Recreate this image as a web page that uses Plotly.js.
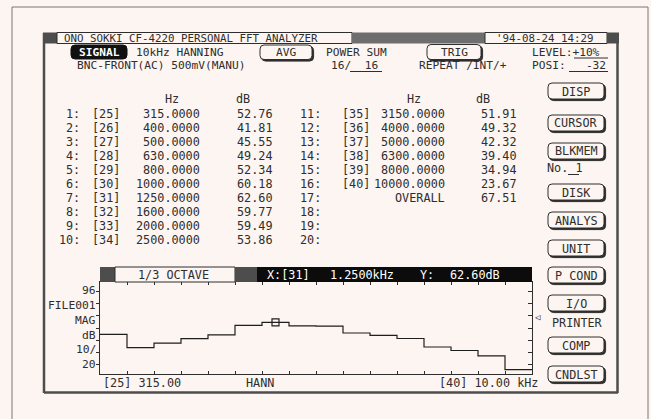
<!DOCTYPE html>
<html>
<head>
<meta charset="utf-8">
<script src="https://cdn.plot.ly/plotly-3.0.1.min.js"></script>
<style>
html,body{margin:0;padding:0;background:#fdf5f1;}
#chart{width:651px;height:419px;}
</style>
</head>
<body>
<div id="chart"></div>
<script>
// ---------------- data ----------------
const bandNumbers = [25,26,27,28,29,30,31,32,33,34,35,36,37,38,39,40];
const bandFreqs   = [315,400,500,630,800,1000,1250,1600,2000,2500,3150,4000,5000,6300,8000,10000];
const bandLevels  = [52.76,41.81,45.55,49.24,52.34,60.18,62.60,59.77,59.49,53.86,51.91,49.32,42.32,39.40,34.94,23.67];
const overallLevel = 67.51;
const cursorBand = 7;              // list entry 7 = band [31]
const yRange = [20, 96];
const yTickVals = [28,38,48,58,68,78,88];
const leftAxisLabels = ["96","FILE001","MAG","dB","10/","20"];
const menuButtons = ["DISP","CURSOR","BLKMEM","DISK","ANALYS","UNIT","P COND","I/O","COMP","CNDLST"];

// ---------------- style / geometry ----------------
const BG = '#fdf5f1', INK = '#2e2e2e', DARK = '#4d4d4d', MID = '#6e6e6e';
const FONT = '"DejaVu Sans Mono","Liberation Mono",monospace';
const FS = 11.8;
const PL = 100, PR = 532, PT = 282, PB = 374;
const X = p => (p - PL) / (PR - PL);
const Y = p => (PB - p) / (PB - PT);

const shapes = [], ann = [];
function rect(x0,y0,x1,y1,fill,lc,lw){
  shapes.push({type:'rect',xref:'paper',yref:'paper',x0:X(x0),x1:X(x1),y0:Y(y0),y1:Y(y1),
    fillcolor:fill||'rgba(0,0,0,0)',line:{color:lc||'rgba(0,0,0,0)',width:lw||0},layer:'above'});
}
function seg(x0,y0,x1,y1,c,w){
  shapes.push({type:'line',xref:'paper',yref:'paper',x0:X(x0),y0:Y(y0),x1:X(x1),y1:Y(y1),
    line:{color:c,width:w},layer:'above'});
}
function rr(x0,y0,x1,y1,r){
  return `M ${X(x0+r)} ${Y(y0)} L ${X(x1-r)} ${Y(y0)} Q ${X(x1)} ${Y(y0)} ${X(x1)} ${Y(y0+r)} `+
         `L ${X(x1)} ${Y(y1-r)} Q ${X(x1)} ${Y(y1)} ${X(x1-r)} ${Y(y1)} L ${X(x0+r)} ${Y(y1)} `+
         `Q ${X(x0)} ${Y(y1)} ${X(x0)} ${Y(y1-r)} L ${X(x0)} ${Y(y0+r)} Q ${X(x0)} ${Y(y0)} ${X(x0+r)} ${Y(y0)} Z`;
}
function pth(d,fill,lc,lw){
  shapes.push({type:'path',xref:'paper',yref:'paper',path:d,fillcolor:fill,line:{color:lc,width:lw},layer:'above'});
}
function txt(s,x,y,o){
  const a = {text:s,xref:'paper',yref:'paper',x:X(x),y:Y(y),xanchor:'left',yanchor:'middle',
    showarrow:false,borderpad:0,font:{family:FONT,size:FS,color:INK}};
  if(o){ for(const k in o){ if(k==='font') Object.assign(a.font,o.font); else a[k]=o[k]; } }
  ann.push(a);
}
function button(label,x0,y0,x1,y1,fs){
  pth(rr(x0+1.6,y0+1.6,x1+1.6,y1+1.6,4),INK,INK,1);
  pth(rr(x0,y0,x1,y1,4),BG,INK,1);
  txt(label,(x0+x1)/2,(y0+y1)/2+0.5,{xanchor:'center',font:{size:fs||FS}});
}

// ---------------- frames ----------------
seg(12,7,12,425,'#777',1); seg(12,7,648,7,'#777',1); seg(648,7,648,425,'#777',1);
seg(44,33,44,393,DARK,2.5); seg(44,392.5,618,392.5,DARK,2.5); seg(617.5,33,617.5,393,DARK,2.5);

// title bar
rect(43,32.5,57,43.5,DARK);
rect(57,32.5,352,43.5,BG,INK,1);
rect(352,32.5,485,43.5,MID);
rect(485,32.5,607,43.5,BG,INK,1);
rect(607,32.5,619,43.5,DARK);
txt("ONO SOKKI CF-4220 PERSONAL FFT ANALYZER",63,38.3,{font:{size:10.8}});
txt("'94-08-24 14:29",495,38.3,{font:{size:10.8}});

// row 2 / row 3
const R2 = 52, R3 = 65.5, FS2 = 11.2;
pth(rr(71,45,127,59,4),'#111','#111',1);
txt("<b>SIGNAL</b>",99,R2+0.3,{xanchor:'center',font:{color:'#ffffff',size:FS2}});
txt("10kHz HANNING",135,R2,{font:{size:FS2}});
button("AVG",260,45,312,59.5,FS2);
txt("POWER SUM",325,R2,{font:{size:FS2}});
button("TRIG",427,44.5,481,59.5,FS2);
txt("LEVEL:+10%",531,R2,{font:{size:FS2}});
seg(574,58,608,58,INK,1);
txt("BNC-FRONT(AC) 500mV(MANU)",76,R3,{font:{size:FS2}});
txt("16/  16",330,R3,{font:{size:FS2}});
seg(350,71.5,382,71.5,INK,1);
txt("REPEAT /INT/+",418,R3,{font:{size:FS2}});
txt("POSI:   -32",531,R3,{font:{size:FS2}});
seg(569,71.5,608,71.5,INK,1);

// table
txt("Hz",172,99,{xanchor:'center'}); txt("dB",243,99,{xanchor:'center'});
txt("Hz",414,99,{xanchor:'center'}); txt("dB",483,99,{xanchor:'center'});
const rowY = i => 114 + i*14;
for(let i=0;i<20;i++){
  const left = i<10, r = i%10, y = rowY(r);
  txt((i+1)+":", left?81:322, y, {xanchor:'right'});
  if(i < bandLevels.length){
    txt("["+bandNumbers[i]+"]", left?91:341, y);
    txt(bandFreqs[i].toFixed(4), left?201:446, y, {xanchor:'right'});
    txt(bandLevels[i].toFixed(2), left?274:518, y, {xanchor:'right'});
  } else if(i === bandLevels.length){
    txt("OVERALL", 446, y, {xanchor:'right'});
    txt(overallLevel.toFixed(2), 518, y, {xanchor:'right'});
  }
}

// menu buttons
const btnY = [91,123,151,192,220,248,275,303,345,374];
menuButtons.forEach((b,i)=>button(b,548,btnY[i]-8,604,btnY[i]+8));
txt("No. 1",546,168); seg(568,174.5,579,174.5,INK,1);
txt("PRINTER",577,323,{xanchor:'center'});

// plot header bar
const ci = cursorBand-1;
rect(100,267,115,282,DARK);
rect(115,267,235,282,BG,INK,1);
rect(235,267,257,282,DARK);
rect(257,267,532,282,'#0c0c0c');
txt("1/3 OCTAVE",173,274.5,{xanchor:'center'});
txt("X:["+bandNumbers[ci]+"]",266,274.5,{font:{color:'#ffffff'}});
txt((bandFreqs[ci]/1000).toFixed(4)+"kHz",329,274.5,{font:{color:'#ffffff'}});
txt("Y:",419,274.5,{font:{color:'#ffffff'}});
txt(bandLevels[ci].toFixed(2)+"dB",449,274.5,{font:{color:'#ffffff'}});

// left side labels, bottom labels
const labY = [290,305,320,335,349,364];
leftAxisLabels.forEach((s,i)=>txt(s,97,labY[i],{xanchor:'right',font:{size:11.3}}));
txt("["+bandNumbers[0]+"] "+bandFreqs[0].toFixed(2),102,383);
txt("HANN",245,383);
txt("["+bandNumbers[15]+"] "+(bandFreqs[15]/1000).toFixed(2)+" kHz",539,383,{xanchor:'right'});
txt("◁",534,317,{font:{size:9}});

// ---------------- traces ----------------
const stepX = bandLevels.map((_,i)=>i).concat([bandLevels.length]);
const stepY = bandLevels.concat([bandLevels[bandLevels.length-1]]);
const traces = [
  {type:'scatter',mode:'lines',x:stepX,y:stepY,line:{shape:'hv',color:'#1e1e1e',width:1.2},hoverinfo:'skip'},
  {type:'scatter',mode:'markers',x:[ci+0.5],y:[bandLevels[ci]],yaxis:'y2',
   marker:{symbol:'square-open',size:7,color:'#1e1e1e',line:{width:1.2}},hoverinfo:'skip'}
];

const layout = {
  width:651,height:419,
  margin:{l:PL,r:651-PR,t:PT,b:419-PB,pad:0},
  paper_bgcolor:BG,plot_bgcolor:BG,showlegend:false,
  xaxis:{range:[0,bandLevels.length],tickvals:stepX,showticklabels:false,ticks:'inside',ticklen:3,
    tickcolor:INK,showline:true,linecolor:INK,linewidth:1.2,mirror:'ticks',showgrid:false,zeroline:false,fixedrange:true},
  yaxis:{range:yRange,tickvals:yTickVals,showticklabels:false,ticks:'outside',ticklen:3,tickcolor:INK,
    showline:true,linecolor:INK,linewidth:1.2,showgrid:false,zeroline:false,fixedrange:true},
  yaxis2:{range:yRange,overlaying:'y',side:'right',tickvals:yTickVals,showticklabels:false,ticks:'inside',
    ticklen:4,tickcolor:INK,showline:true,linecolor:INK,linewidth:1.2,showgrid:false,zeroline:false,fixedrange:true},
  shapes:shapes,annotations:ann
};
Plotly.newPlot('chart',traces,layout,{staticPlot:true,displayModeBar:false});
</script>
</body>
</html>
